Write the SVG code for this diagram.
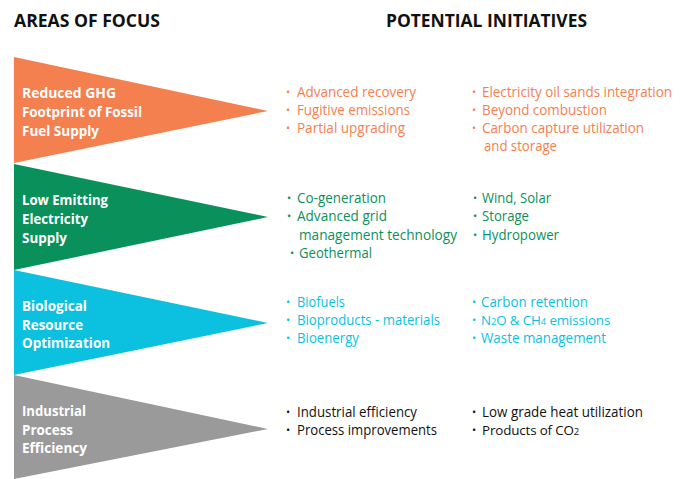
<svg xmlns="http://www.w3.org/2000/svg" width="686" height="479" viewBox="0 0 686 479">
  <style>
    .head { font-family: "Open Sans", "Liberation Sans", sans-serif; font-weight: 700; font-size: 17px; fill: #111111; }
    .area { font-family: "Open Sans", "Liberation Sans", sans-serif; font-weight: 700; font-size: 14px; fill: #ffffff; }
    .item { font-family: "Open Sans", "Liberation Sans", sans-serif; font-size: 14px; }
    .tight { font-size: 13.4px; letter-spacing: -0.15px; }
    .dot { font-family: "Open Sans", "Liberation Sans", sans-serif; font-size: 11px; }
    .sub { font-size: 9.5px; }
    .orange { fill: #F4804F; }
    .green { fill: #0A915B; }
    .cyan { fill: #0CC1DF; }
    .gray { fill: #9A9A9B; }
    .black { fill: #111111; }
  </style>
  <rect width="686" height="479" fill="#ffffff"/>

  <!-- column headings -->
  <text class="head" x="14" y="27" textLength="146" lengthAdjust="spacingAndGlyphs">AREAS OF FOCUS</text>
  <text class="head" x="386" y="27" textLength="201" lengthAdjust="spacingAndGlyphs">POTENTIAL INITIATIVES</text>

  <!-- area 1 -->
  <g id="area-fossil">
    <polygon class="orange" points="14,57 268,111 14,163"/>
    <text class="area" x="22" y="98" textLength="94" lengthAdjust="spacingAndGlyphs">Reduced GHG</text>
    <text class="area" x="22" y="117" textLength="120" lengthAdjust="spacingAndGlyphs">Footprint of Fossil</text>
    <text class="area" x="22" y="136" textLength="77" lengthAdjust="spacingAndGlyphs">Fuel Supply</text>
  </g>
  <g id="initiatives-fossil" class="orange">
    <text class="dot" x="286" y="96">•</text>
    <text class="dot" x="286" y="114">•</text>
    <text class="dot" x="286" y="132">•</text>
    <text class="item" x="297" y="97" textLength="119" lengthAdjust="spacingAndGlyphs">Advanced recovery</text>
    <text class="item" x="297" y="115" textLength="113" lengthAdjust="spacingAndGlyphs">Fugitive emissions</text>
    <text class="item" x="297" y="133" textLength="108" lengthAdjust="spacingAndGlyphs">Partial upgrading</text>
    <text class="dot" x="472" y="96">•</text>
    <text class="dot" x="472" y="114">•</text>
    <text class="dot" x="472" y="132">•</text>
    <text class="item" x="482" y="97" textLength="190" lengthAdjust="spacingAndGlyphs">Electricity oil sands integration</text>
    <text class="item" x="482" y="115" textLength="125" lengthAdjust="spacingAndGlyphs">Beyond combustion</text>
    <text class="item" x="482" y="133" textLength="162" lengthAdjust="spacingAndGlyphs">Carbon capture utilization</text>
    <text class="item" x="484" y="151" textLength="73" lengthAdjust="spacingAndGlyphs">and storage</text>
  </g>

  <!-- area 2 -->
  <g id="area-electricity">
    <polygon class="green" points="14,164 268,217 14,270"/>
    <text class="area" x="22" y="205" textLength="86" lengthAdjust="spacingAndGlyphs">Low Emitting</text>
    <text class="area" x="22" y="224" textLength="66" lengthAdjust="spacingAndGlyphs">Electricity</text>
    <text class="area" x="22" y="243" textLength="45" lengthAdjust="spacingAndGlyphs">Supply</text>
  </g>
  <g id="initiatives-electricity" class="green">
    <text class="dot" x="287" y="202">•</text>
    <text class="dot" x="287" y="220">•</text>
    <text class="dot" x="290" y="257">•</text>
    <text class="item" x="297" y="203" textLength="89" lengthAdjust="spacingAndGlyphs">Co-generation</text>
    <text class="item" x="297" y="221" textLength="90" lengthAdjust="spacingAndGlyphs">Advanced grid</text>
    <text class="item" x="299" y="240" textLength="158" lengthAdjust="spacingAndGlyphs">management technology</text>
    <text class="item" x="299" y="258" textLength="73" lengthAdjust="spacingAndGlyphs">Geothermal</text>
    <text class="dot" x="473" y="202">•</text>
    <text class="dot" x="473" y="220">•</text>
    <text class="dot" x="473" y="239">•</text>
    <text class="item" x="482" y="203" textLength="69" lengthAdjust="spacingAndGlyphs">Wind, Solar</text>
    <text class="item" x="482" y="221" textLength="47" lengthAdjust="spacingAndGlyphs">Storage</text>
    <text class="item" x="482" y="240" textLength="77" lengthAdjust="spacingAndGlyphs">Hydropower</text>
  </g>

  <!-- area 3 -->
  <g id="area-biological">
    <polygon class="cyan" points="14,270 268,323 14,375"/>
    <text class="area" x="22" y="311" textLength="65" lengthAdjust="spacingAndGlyphs">Biological</text>
    <text class="area" x="22" y="330" textLength="61" lengthAdjust="spacingAndGlyphs">Resource</text>
    <text class="area" x="22" y="348" textLength="88" lengthAdjust="spacingAndGlyphs">Optimization</text>
  </g>
  <g id="initiatives-biological" class="cyan">
    <text class="dot" x="286" y="306">•</text>
    <text class="dot" x="286" y="324">•</text>
    <text class="dot" x="286" y="342">•</text>
    <text class="item" x="297" y="307" textLength="48" lengthAdjust="spacingAndGlyphs">Biofuels</text>
    <text class="item" x="297" y="325" textLength="143" lengthAdjust="spacingAndGlyphs">Bioproducts - materials</text>
    <text class="item" x="297" y="343" textLength="62" lengthAdjust="spacingAndGlyphs">Bioenergy</text>
    <text class="dot" x="472" y="306">•</text>
    <text class="dot" x="472" y="324">•</text>
    <text class="dot" x="472" y="342">•</text>
    <text class="item" x="481" y="307" textLength="107" lengthAdjust="spacingAndGlyphs">Carbon retention</text>
    <text class="item tight" x="481" y="325">N<tspan class="sub">2</tspan>O &amp; CH<tspan class="sub">4</tspan> emissions</text>
    <text class="item" x="481" y="343" textLength="125" lengthAdjust="spacingAndGlyphs">Waste management</text>
  </g>

  <!-- area 4 -->
  <g id="area-industrial">
    <polygon class="gray" points="14,375 268,429 14,479"/>
    <text class="area" x="22" y="416" textLength="64" lengthAdjust="spacingAndGlyphs">Industrial</text>
    <text class="area" x="22" y="435" textLength="51" lengthAdjust="spacingAndGlyphs">Process</text>
    <text class="area" x="22" y="453" textLength="65" lengthAdjust="spacingAndGlyphs">Efficiency</text>
  </g>
  <g id="initiatives-industrial" class="black">
    <text class="dot" x="286" y="416">•</text>
    <text class="dot" x="286" y="434">•</text>
    <text class="item" x="297" y="417" textLength="120" lengthAdjust="spacingAndGlyphs">Industrial efficiency</text>
    <text class="item" x="297" y="435" textLength="140" lengthAdjust="spacingAndGlyphs">Process improvements</text>
    <text class="dot" x="472" y="416">•</text>
    <text class="dot" x="472" y="434">•</text>
    <text class="item" x="482" y="417" textLength="161" lengthAdjust="spacingAndGlyphs">Low grade heat utilization</text>
    <text class="item tight" x="482" y="435">Products of CO<tspan class="sub">2</tspan></text>
  </g>
</svg>
